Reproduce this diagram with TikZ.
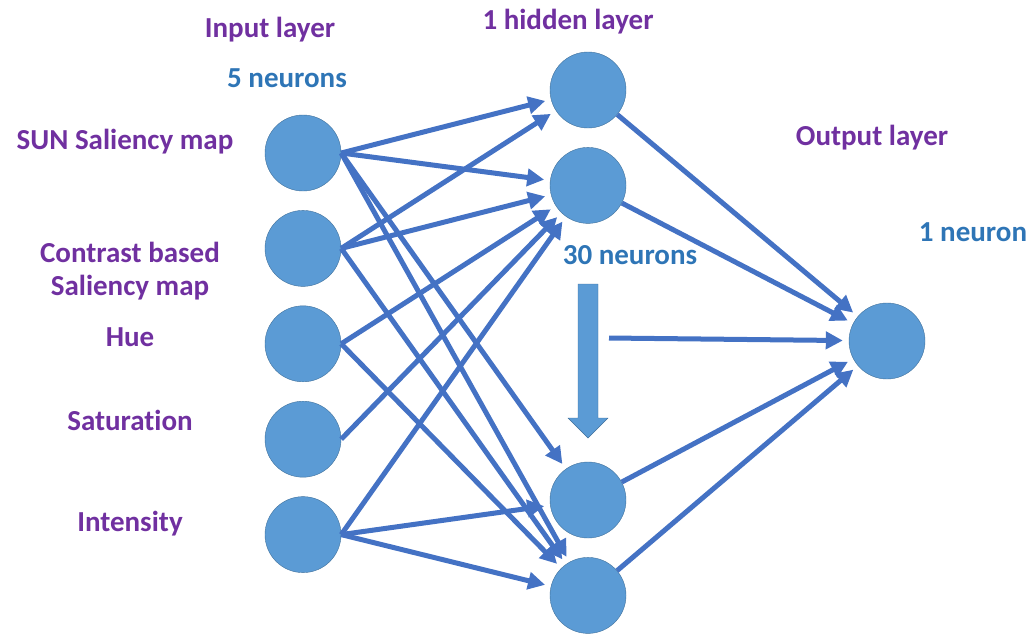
\documentclass[tikz,border=0pt]{standalone}
\usepackage{fontspec}
\setmainfont{Carlito}[Ligatures=NoCommon]
\usetikzlibrary{positioning,arrows.meta}

\definecolor{neuronfill}{RGB}{91,155,213}
\definecolor{neuronline}{RGB}{65,113,156}
\definecolor{linkblue}{RGB}{68,114,196}
\definecolor{layerpurple}{RGB}{112,48,160}
\definecolor{countblue}{RGB}{46,117,182}

\tikzset{
    >={Triangle[length=17pt,width=17pt]},
    neuron/.style={
        circle,
        fill=neuronfill,
        draw=neuronline, thin,
        minimum size=76pt,
        inner sep=0pt
    },
    link/.style={->, draw=linkblue, line width=5pt, shorten >=6pt},
    layername/.style={
        text=layerpurple,
        font=\bfseries\fontsize{29}{33}\selectfont,
        align=center
    },
    neuroncount/.style={
        text=countblue,
        font=\bfseries\fontsize{29}{33}\selectfont
    }
}

\begin{document}
\begin{tikzpicture}[x=1pt, y=-1pt, node distance=19pt]
    \useasboundingbox (0,0) rectangle (1030,633);

    % input layer
    \node[neuron] (I1) at (303,153) {};
    \node[neuron, below=of I1] (I2) {};
    \node[neuron, below=of I2] (I3) {};
    \node[neuron, below=of I3] (I4) {};
    \node[neuron, below=of I4] (I5) {};

    % hidden layer, top and bottom pair
    \node[neuron] (H1) at (588,90) {};
    \node[neuron, below=of H1] (H2) {};
    \node[neuron] (H3) at (588,500) {};
    \node[neuron, below=of H3] (H4) {};

    % output layer
    \node[neuron] (O) at (887,341) {};

    % titles
    \node[layername] (input name) at (270,30) {Input layer};
    \node[neuroncount] (input count) at (287,78) {5 neurons};
    \node[layername] (hidden name) at (568,22) {1 hidden layer};
    \node[neuroncount] (hidden count) at (630,255) {30 neurons};
    \node[layername] (output name) at (872,138) {Output layer};
    \node[neuroncount] (output count) at (973,232) {1 neuron};

    % features
    \node[layername] (sun) at (125,142) {SUN Saliency map};
    \node[layername] (contrast) at (130,271) {Contrast based\\Saliency map};
    \node[layername] (hue) at (130,337) {Hue};
    \node[layername] (sat) at (130,420) {Saturation};
    \node[layername] (int) at (130,524) {Intensity};

    % input -> hidden, all leaving from the right side
    \draw[link] (I1.east) -- (H1);
    \draw[link] (I1.east) -- (H2);
    \draw[link] (I1.east) -- (H3);
    \draw[link] (I1.east) -- (H4);
    \draw[link] (I2.east) -- (H1);
    \draw[link] (I2.east) -- (H2);
    \draw[link] (I2.east) -- (H4);
    \draw[link] (I3.east) -- (H2);
    \draw[link] (I3.east) -- (H4);
    \draw[link] (I4.east) -- (H2);
    \draw[link] (I5.east) -- (H2);
    \draw[link] (I5.east) -- (H3);
    \draw[link] (I5.east) -- (H4);

    % hidden -> output
    \draw[link] (H1) -- (O);
    \draw[link] (H2) -- (O);
    \draw[link] (H3) -- (O);
    \draw[link] (H4) -- (O);
    \coordinate (rest) at (609,338);
    \draw[link] (rest) -- (O);

    % the skipped hidden neurons
    \draw[fill=neuronfill, draw=neuronline, thin]
        (578,284) -- (598,284) -- (598,418) -- (608,418)
        -- (588,438) -- (568,418) -- (578,418) -- cycle;
\end{tikzpicture}
\end{document}
